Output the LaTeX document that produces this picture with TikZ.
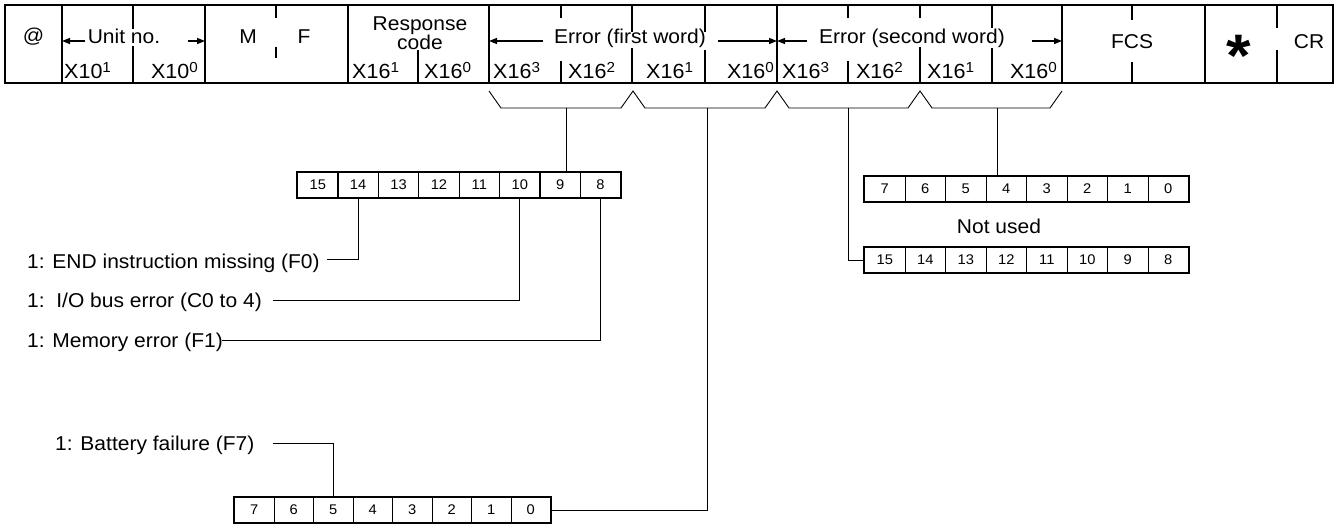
\documentclass[tikz,border=0pt]{standalone}
\usepackage{fontspec}
\setmainfont{Liberation Sans}[FakeStretch=1.05]
\usetikzlibrary{arrows.meta}
\newcommand\mysup[1]{\raisebox{6pt}{\fontsize{14.5}{14.5}\selectfont #1}}
\begin{document}
\begin{tikzpicture}[x=1pt,y=-1pt,
  frame/.style={line width=2pt},
  minor/.style={line width=1.3pt},
  conn/.style={line width=0.9pt},
  brace/.style={line width=0.9pt, line join=miter},
  arr/.style={line width=1.4pt,-{Triangle[length=8pt,width=6pt]}},
  txt/.style={font=\fontsize{20}{21}\selectfont, inner sep=0pt},
  btxt/.style={font=\fontsize{20.5}{21}\selectfont, inner sep=0pt},
  bitcell/.style={draw, line width=1.1pt, minimum width=#1, minimum height=25pt,
     inner sep=0pt, anchor=north west, font=\fontsize{14}{14}\selectfont},
  bitframe/.style={line width=2pt}]
\useasboundingbox (0,0) rectangle (1338,523);

% ---------- main frame ----------
\draw[frame] (5,5) rectangle (1333,83);
\foreach \x in {62,205,348,489,777,1062,1205}
  \draw[frame] (\x,5) -- (\x,83);
% minor dividers with gaps
\draw[minor] (133,5) -- (133,29) (133,46) -- (133,83);
\draw[minor] (276,5) -- (276,18) (276,47) -- (276,58);
\draw[minor] (418,50) -- (418,83);
\draw[minor] (561,5) -- (561,18) (561,61) -- (561,83);
\draw[minor] (632,5) -- (632,32) (632,48) -- (632,83);
\draw[minor] (705,5) -- (705,32) (705,50) -- (705,83);
\draw[minor] (848,5) -- (848,18) (848,61) -- (848,83);
\draw[minor] (920,5) -- (920,18) (920,47) -- (920,83);
\draw[minor] (992,5) -- (992,28) (992,48) -- (992,83);
\draw[minor] (1132,5) -- (1132,20) (1132,62) -- (1132,83);
\draw[minor] (1277,5) -- (1277,28) (1277,50) -- (1277,83);

% top row texts
\node[txt, anchor=base] (at) at (33.5,42) {@};
\node[txt, anchor=base] (unit) at (124,43) {Unit no.};
\node[txt, anchor=base] (m) at (248,43) {M};
\node[txt, anchor=base] (f) at (304,43) {F};
\node[txt, anchor=base] (resp) at (420,30) {Response};
\node[txt, anchor=base] (code) at (420,49) {code};
\node[txt, anchor=base] (err1) at (630,43) {Error (first word)};
\node[txt, anchor=base] (err2) at (912,43) {Error (second word)};
\node[txt, anchor=base] (fcs) at (1132,48) {FCS};
\node[anchor=base, inner sep=0pt, font=\fontsize{60}{60}\selectfont\bfseries] (ast) at (1239,76) {*};
\node[txt, anchor=base] (cr) at (1309,48) {CR};

% arrows
\draw[arr] (85,41) -- (62,41);
\draw[arr] (188,41) -- (205,41);
\draw[arr] (543,41) -- (489,41);
\draw[arr] (718,41) -- (777,41);
\draw[arr] (807,41) -- (777,41);
\draw[arr] (1032,41) -- (1062,41);

% bottom row texts
\node[btxt, anchor=base west] (u1) at (64,78) {X10\mysup{1}};
\node[btxt, anchor=base east] (u0) at (198,78) {X10\mysup{0}};
\node[btxt, anchor=base west] (r1) at (352,78) {X16\mysup{1}};
\node[btxt, anchor=base west] (r0) at (424,78) {X16\mysup{0}};
\node[btxt, anchor=base west] (a3) at (493,78) {X16\mysup{3}};
\node[btxt, anchor=base west] (a2) at (568,78) {X16\mysup{2}};
\node[btxt, anchor=base west] (a1) at (646,78) {X16\mysup{1}};
\node[btxt, anchor=base east] (a0) at (774,78) {X16\mysup{0}};
\node[btxt, anchor=base west] (b3) at (782,78) {X16\mysup{3}};
\node[btxt, anchor=base east] (b2) at (903,78) {X16\mysup{2}};
\node[btxt, anchor=base west] (b1) at (927,78) {X16\mysup{1}};
\node[btxt, anchor=base east] (b0) at (1057,78) {X16\mysup{0}};

% ---------- braces ----------
\draw[brace] (489,91) -- (501,108) -- (621,108) -- (633,91) -- (645,108) -- (765,108)
  -- (777,91) -- (789,108) -- (908,108) -- (920,91) -- (932,108) -- (1050,108) -- (1062,91);
\coordinate (br1) at (566,108);
\coordinate (br2) at (707,108);
\coordinate (br3) at (848,108);
\coordinate (br4) at (997,108);

% ---------- bit boxes ----------
\foreach \b [count=\i from 0] in {15,14,13,12,11,10,9,8}
  \node[bitcell=40.4pt] (L\b) at (297+\i*40.4,172) {\b};
\draw[bitframe] (L15.north west) rectangle (L8.south east);

\foreach \b [count=\i from 0] in {7,6,5,4,3,2,1,0}
  \node[bitcell=40.5pt] (U\b) at (864+\i*40.5,176) {\b};
\draw[bitframe] (U7.north west) rectangle (U0.south east);

\foreach \b [count=\i from 0] in {15,14,13,12,11,10,9,8}
  \node[bitcell=40.5pt] (R\b) at (864+\i*40.5,247) {\b};
\draw[bitframe] (R15.north west) rectangle (R8.south east);

\foreach \b [count=\i from 0] in {7,6,5,4,3,2,1,0}
  \node[bitcell=39.5pt] (B\b) at (234+\i*39.5,497) {\b};
\draw[bitframe] (B7.north west) rectangle (B0.south east);

\node[txt, anchor=base] (nu) at (999,233) {Not used};

% ---------- labels ----------
\node[txt, anchor=base west] (lEnd) at (27,268) {1: END instruction missing (F0)};
\node[txt, anchor=base west] (lBus) at (27,307) {1:\ \ I/O bus error (C0 to 4)};
\node[txt, anchor=base west] (lMem) at (27,347) {1: Memory error (F1)};
\node[txt, anchor=base west] (lBat) at (55,450) {1: Battery failure (F7)};

\coordinate (cEnd) at (327,259);
\coordinate (cBus) at (273,300);
\coordinate (cMem) at (222,340);
\coordinate (cBat) at (273,443);

% ---------- connectors ----------
\draw[conn] (br1) -- (br1 |- L9.north);
\draw[conn] (br2) |- (B0.east);
\draw[conn] (br3) |- (R15.west);
\draw[conn] (br4) -- (br4 |- U4.north);
\draw[conn] (cEnd) -| (L14.south);
\draw[conn] (cBus) -| (L10.south);
\draw[conn] (cMem) -| (L8.south);
\draw[conn] (cBat) -| (B5.north);
\end{tikzpicture}
\end{document}
